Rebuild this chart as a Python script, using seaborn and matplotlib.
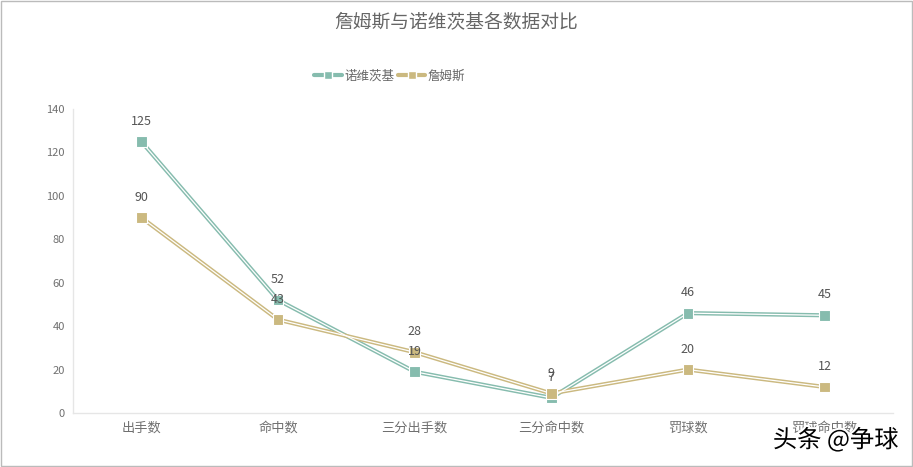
import matplotlib
matplotlib.use("Agg")
import matplotlib.pyplot as plt
import matplotlib.patheffects as pe
import seaborn as sns
import pandas as pd

categories = ["出手数", "命中数", "三分出手数", "三分命中数", "罚球数", "罚球命中数"]
nowitzki = [125, 52, 19, 7, 46, 45]
james = [90, 43, 28, 9, 20, 12]
series_names = ["诺维茨基", "詹姆斯"]
colors = ["#86bcae", "#cbb980"]

sns.set_theme(style="white")
plt.rcParams["font.family"] = ["Noto Sans CJK SC", "DejaVu Sans"]

df = pd.concat([
    pd.DataFrame({"cat": categories, "val": nowitzki, "who": series_names[0]}),
    pd.DataFrame({"cat": categories, "val": james, "who": series_names[1]}),
])
df["x"] = df["cat"].map({c: i for i, c in enumerate(categories)})

fig = plt.figure(figsize=(9.13, 4.67), dpi=100)
ax = fig.add_axes([0.080, 0.1156, 0.898, 0.651])

pal = dict(zip(series_names, colors))
# outer coloured line
sns.lineplot(data=df, x="x", y="val", hue="who", palette=pal, linewidth=3.0,
             legend=False, ax=ax, zorder=2)
# white centre for the double-line look
sns.lineplot(data=df, x="x", y="val", hue="who",
             palette={s: "white" for s in series_names}, linewidth=0.9,
             legend=False, ax=ax, zorder=3)
# markers
sns.scatterplot(data=df, x="x", y="val", hue="who", palette=pal, marker="s",
                s=60, edgecolor="white", linewidth=0.8, legend=False, ax=ax, zorder=4)

for vals in (nowitzki, james):
    for i, v in enumerate(vals):
        ax.annotate(str(v), (i, v), xytext=(0, 10), textcoords="offset points",
                    ha="center", va="bottom", fontsize=9, color="#555555", zorder=5)

ax.set_xlim(-0.5, 5.5)
ax.set_ylim(0, 140)
ax.set_yticks(range(0, 141, 20))
ax.set_xticks(range(len(categories)))
ax.set_xticklabels(categories)
ax.set_xlabel("")
ax.set_ylabel("")
ax.tick_params(axis="y", labelsize=8, colors="#707070", length=0, pad=6)
ax.tick_params(axis="x", labelsize=9.5, colors="#707070", length=0, pad=6)
for s in ["top", "right"]:
    ax.spines[s].set_visible(False)
for s in ["left", "bottom"]:
    ax.spines[s].set_color("#e6e6e6")
    ax.spines[s].set_linewidth(1)

fig.text(0.5, 0.953, "詹姆斯与诺维茨基各数据对比", ha="center", va="center",
         fontsize=13.5, color="#666666")

# legend
from matplotlib.lines import Line2D
handles = []
for c in colors:
    handles.append(Line2D([0], [0], color=c, lw=3.0, marker="s", markersize=6,
                          markeredgecolor="white", markerfacecolor=c))
leg = fig.legend(handles, series_names, loc="center", bbox_to_anchor=(0.427, 0.837),
                 ncol=2, frameon=False, fontsize=9, handlelength=2.2,
                 columnspacing=0.3, handletextpad=0.2, labelcolor="#666666")

fig.text(0.984, 0.057, "头条 @争球", ha="right", va="center", fontsize=17.5,
         color="black", path_effects=[pe.withStroke(linewidth=3, foreground="white")])

fig.patches.append(plt.Rectangle((0.001, 0.002), 0.998, 0.996, transform=fig.transFigure,
                                 fill=False, edgecolor="#bbbbbb", linewidth=1))

fig.savefig("out.png", dpi=100)
